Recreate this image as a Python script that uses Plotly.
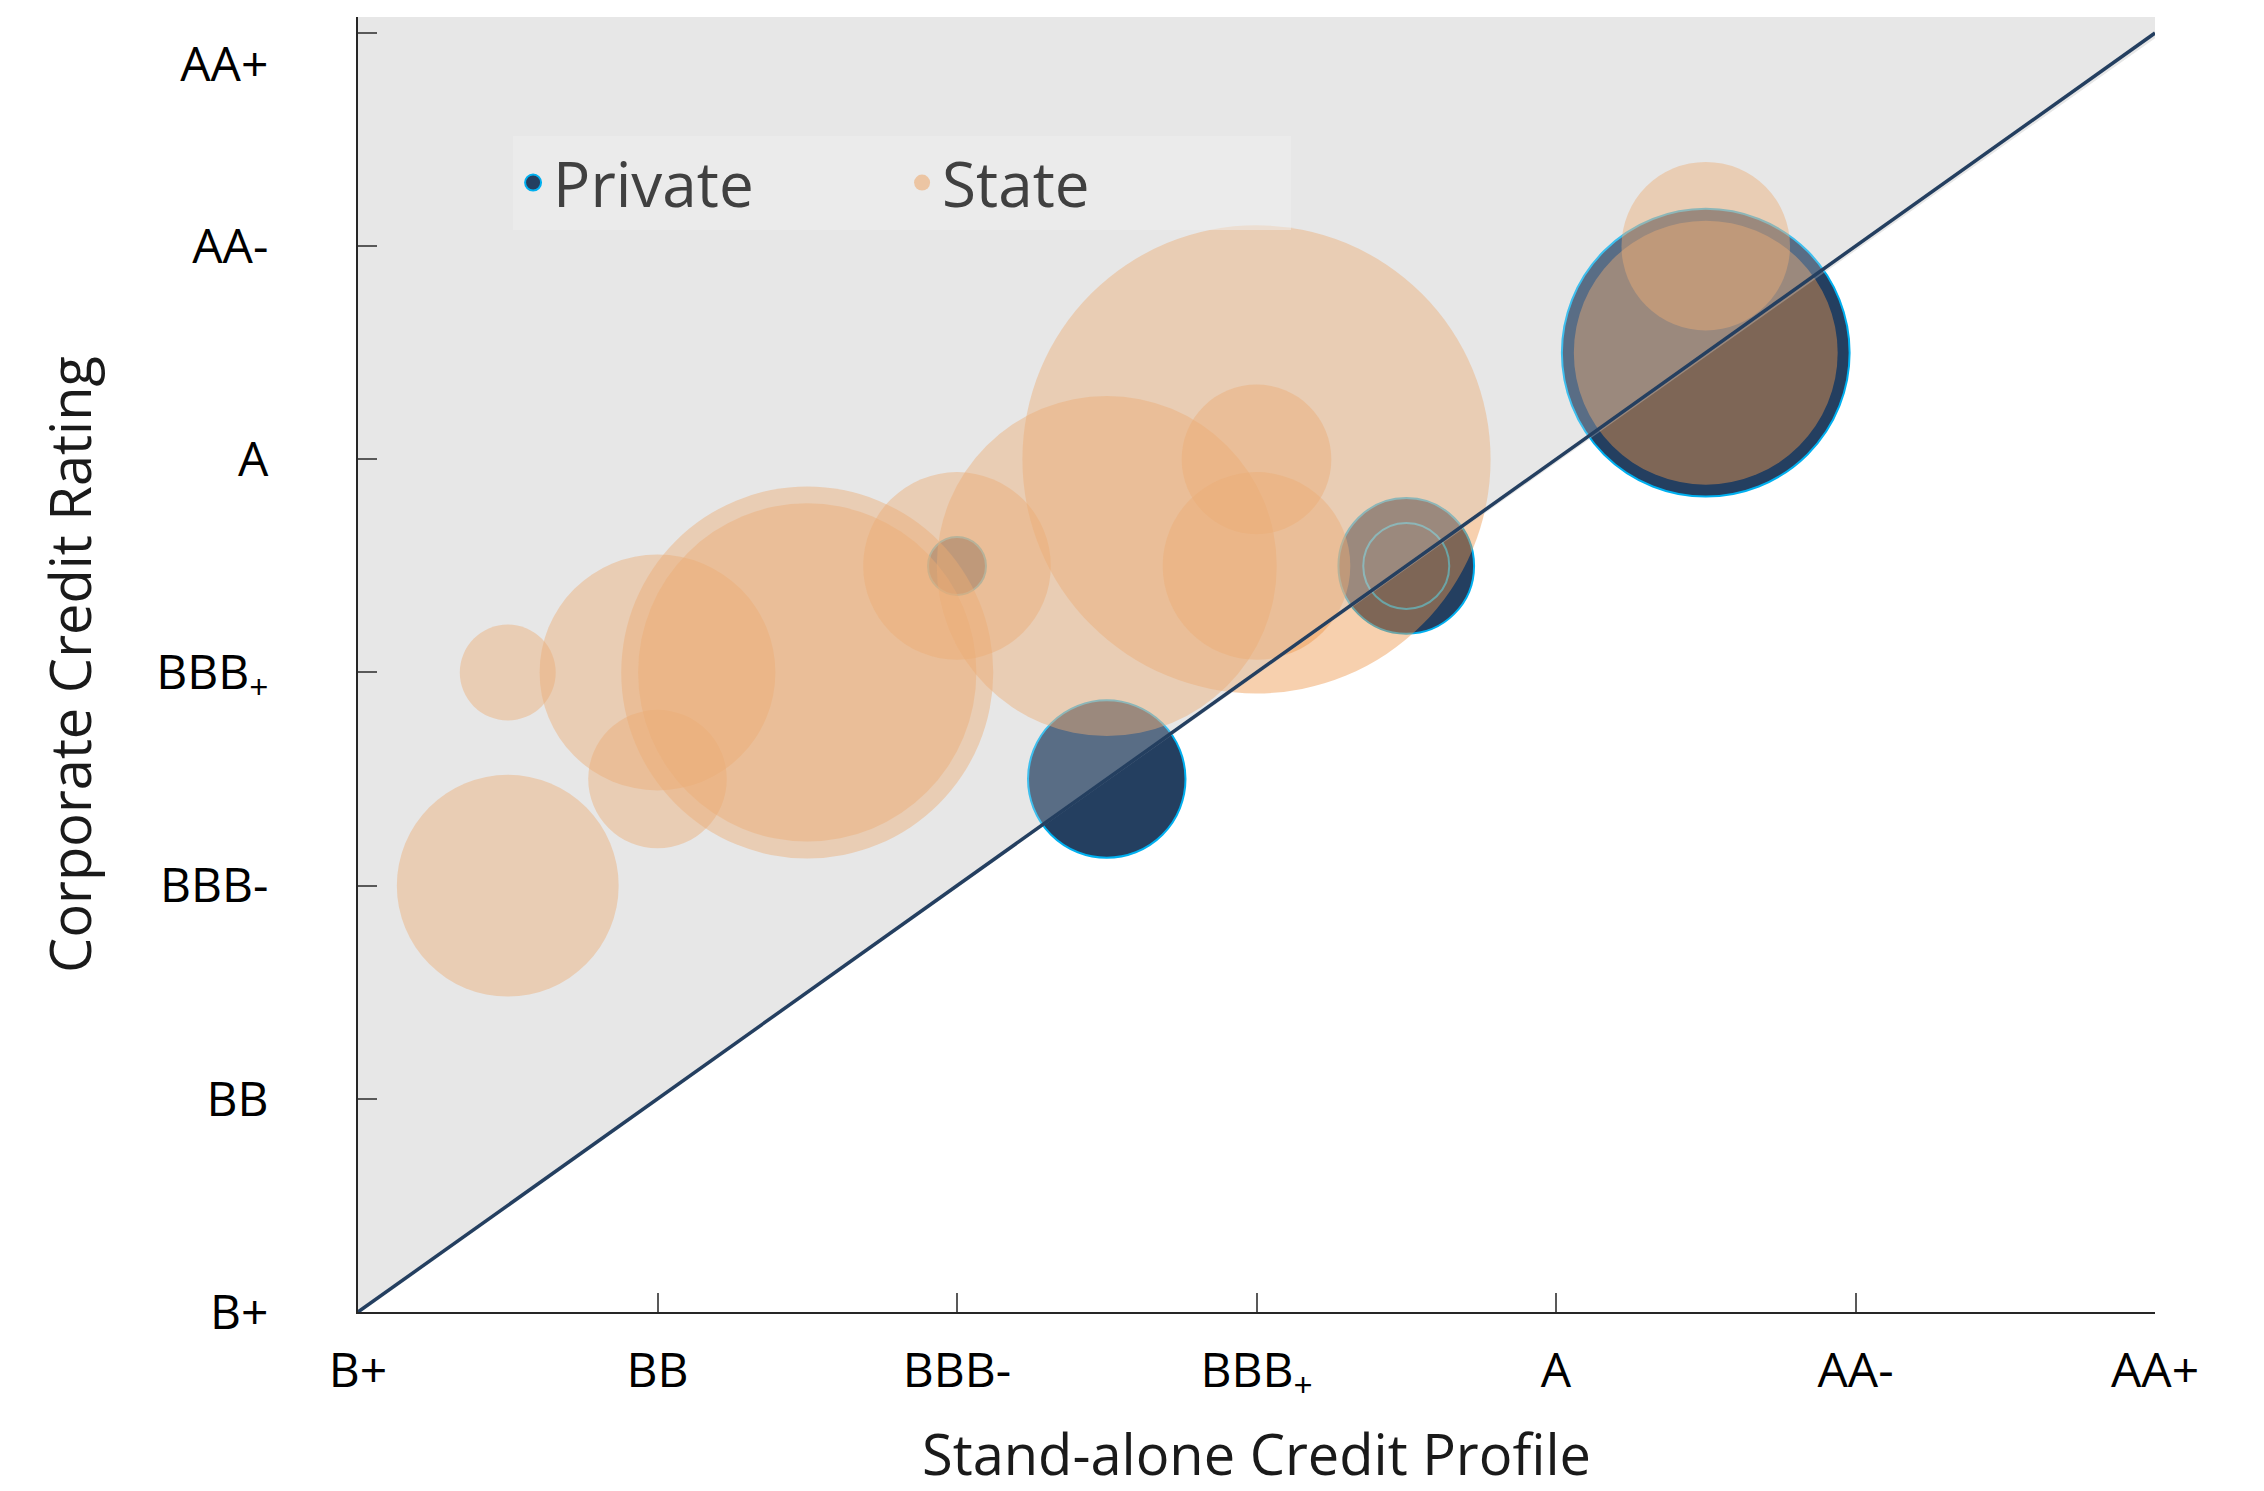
import math
import plotly.graph_objects as go

# ---------------- data ----------------
RATING_SCALE = ["B+", "BB-", "BB", "BB+", "BBB-", "BBB", "BBB+", "A-", "A", "A+", "AA-", "AA", "AA+"]
TICK_RATINGS = ["B+", "BB", "BBB-", "BBB+", "A", "AA-", "AA+"]
X_TICK_TEXT = ["B+", "BB", "BBB-", "BBB<sub>+</sub>", "A", "AA-", "AA+"]
Y_TICK_TEXT = ["B+", "BB", "BBB-", "BBB<sub>+</sub>", "A", "AA-", "<br>AA+"]

state_sacp = ["BB-", "BB-", "BB", "BB", "BB+", "BB+", "BBB-", "BBB", "BBB+", "BBB+", "BBB+", "A+", "A+"]
state_rating = ["BBB+", "BBB-", "BBB+", "BBB", "BBB+", "BBB+", "A-", "A-", "A", "A", "A-", "AA-", "A+"]
state_size = [23, 123, 139, 48, 346, 286, 88, 289, 548, 56, 88, 71, 174]

private_sacp = ["A+", "BBB", "A-", "A-", "BBB-"]
private_rating = ["A+", "BBB", "A-", "A-", "A-"]
private_size = [207, 62, 46, 18.5, 8.4]

# parity line (rating == stand-alone profile) and the "uplift" region above it
parity_x = ["B+", "AA+"]
parity_y = ["B+", "AA+"]
uplift_region_x = [0, 0, 12.2]
uplift_region_y = [0, 12.15, 12.15]

# ---------------- helpers ----------------
def notch(r):
    return RATING_SCALE.index(r)

SIZE_SCALE = 20.0  # px diameter per sqrt(size unit)

def diam(v):
    return SIZE_SCALE * math.sqrt(v)

NAVY = "#243F60"
CYAN = "#00B0F0"
ORANGE = "rgba(238,150,75,0.45)"
GREY = "#E7E7E7"
GREY_VEIL = "rgba(231,231,231,0.27)"
FONT = "Open Sans"

fig = go.Figure()

# grey base of the uplift region
fig.add_trace(go.Scatter(
    x=uplift_region_x, y=uplift_region_y, fill="toself", fillcolor=GREY,
    mode="lines", line=dict(width=0), hoverinfo="skip", showlegend=False))

# private bubbles
fig.add_trace(go.Scatter(
    name="Private",
    x=[notch(r) for r in private_sacp], y=[notch(r) for r in private_rating],
    mode="markers",
    marker=dict(size=[diam(v) for v in private_size], sizemode="diameter",
                color=NAVY, line=dict(color=CYAN, width=2), opacity=1),
    hoverinfo="skip"))

# state bubbles
fig.add_trace(go.Scatter(
    name="State",
    x=[notch(r) for r in state_sacp], y=[notch(r) for r in state_rating],
    mode="markers",
    marker=dict(size=[diam(v) for v in state_size], sizemode="diameter",
                color=ORANGE, line=dict(width=0), opacity=1),
    hoverinfo="skip"))

# translucent grey veil over the uplift region
fig.add_trace(go.Scatter(
    x=uplift_region_x, y=uplift_region_y, fill="toself", fillcolor=GREY_VEIL,
    mode="lines", line=dict(width=0), hoverinfo="skip", showlegend=False))

# parity line
fig.add_trace(go.Scatter(
    x=[notch(r) for r in parity_x], y=[notch(r) for r in parity_y],
    mode="lines", line=dict(color=NAVY, width=3.5), hoverinfo="skip", showlegend=False))

tickvals = [notch(r) for r in TICK_RATINGS]

axis_common = dict(
    tickmode="array", tickvals=tickvals,
    ticks="inside", ticklen=19, tickwidth=2, tickcolor="#595959",
    showline=True, linecolor="#262626", linewidth=2,
    showgrid=False, zeroline=False, ticklabeloverflow="allow",
    tickfont=dict(family=FONT, size=48, color="#000000"),
)

# the page body adds an 8px offset, so the figure is 8px smaller than the window
fig.update_layout(
    width=2256, height=1483,
    margin=dict(l=350, r=109, t=9, b=179, autoexpand=False),
    paper_bgcolor="white", plot_bgcolor="white",
    xaxis=dict(range=[0, 12], ticktext=X_TICK_TEXT,
               title=dict(text="Stand-alone Credit Profile",
                          font=dict(family=FONT, size=56, color="#1a1a1a"), standoff=46),
               ticklabelstandoff=15, **axis_common),
    yaxis=dict(range=[0, 12.15], ticktext=Y_TICK_TEXT,
               title=dict(text="Corporate Credit Rating",
                          font=dict(family=FONT, size=56, color="#1a1a1a"), standoff=47),
               ticklabelstandoff=78, **axis_common),
    legend=dict(orientation="h", x=0.0863, xanchor="left", y=0.872, yanchor="middle",
                font=dict(family=FONT, size=62, color="#404040"),
                bgcolor="rgba(240,240,240,0.5)", borderwidth=0, itemsizing="trace",
                entrywidth=344, traceorder="normal"),
    showlegend=True,
)

fig.write_html("out.html")
